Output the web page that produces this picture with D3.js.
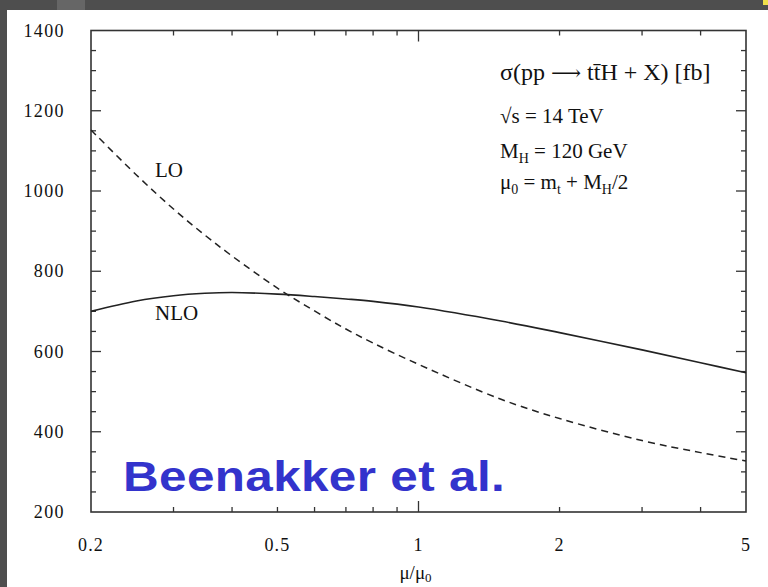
<!DOCTYPE html>
<html>
<head>
<meta charset="utf-8">
<script src="https://cdn.jsdelivr.net/npm/d3@7"></script>
<style>
  html, body { margin: 0; padding: 0; background: #fff; }
  svg { display: block; }
  .serif { font-family: "Liberation Serif", "Times New Roman", serif; fill: #111; }
</style>
</head>
<body>
<script>
// Scale variation of the ttH cross section at the LHC (LO vs NLO)
const mu = [0.2, 0.25, 0.3, 0.35, 0.4, 0.5, 0.6, 0.7, 0.8, 1.0, 1.5, 2, 3, 4, 5];
const sigmaLO = [1152, 1040, 955, 890, 838, 758, 701, 656, 621, 568, 481, 433, 378, 348, 327];
const sigmaNLO = [700, 726, 739, 745, 747, 743, 737, 731, 725, 711, 676, 647, 604, 572, 547];

const xTickLabels = [0.2, 0.5, 1, 2, 5];
const xMinorTicks = [0.3, 0.4, 0.5, 0.6, 0.7, 0.8, 0.9, 2, 3, 4];
const xMajorTicks = [1];
const yTickLabels = [200, 400, 600, 800, 1000, 1200, 1400];
const yMinorTicks = d3.range(250, 1400, 50).filter(v => v % 200 !== 0);

const W = 768, H = 587;
const frame = { left: 91, top: 30.5, right: 746, bottom: 512 };

const svg = d3.select("body").append("svg").attr("width", W).attr("height", H);

// window chrome: dark bars along the top and left
svg.append("rect").attr("x", 0).attr("y", 0).attr("width", W).attr("height", H).attr("fill", "#fff");
svg.append("rect").attr("x", 0).attr("y", 0).attr("width", W).attr("height", 10).attr("fill", "#4e4e4e");
svg.append("rect").attr("x", 0).attr("y", 0).attr("width", 7).attr("height", H).attr("fill", "#4e4e4e");
svg.append("rect").attr("x", 57).attr("y", 0).attr("width", 28).attr("height", 10).attr("fill", "#666");
svg.append("rect").attr("x", 763).attr("y", 0).attr("width", 5).attr("height", 5).attr("fill", "#f0e04a");

const x = d3.scaleLog().domain([0.2, 5]).range([frame.left, frame.right]);
const y = d3.scaleLinear().domain([200, 1400]).range([frame.bottom, frame.top]);

const ink = "#222";

// frame
svg.append("rect")
  .attr("x", frame.left).attr("y", frame.top)
  .attr("width", frame.right - frame.left).attr("height", frame.bottom - frame.top)
  .attr("fill", "none").attr("stroke", "#333").attr("stroke-width", 1.6);

// inward ticks on all four sides
function xTicks(values, len) {
  values.forEach(v => {
    svg.append("line").attr("x1", x(v)).attr("x2", x(v))
      .attr("y1", frame.bottom).attr("y2", frame.bottom - len)
      .attr("stroke", "#333").attr("stroke-width", 1.3);
    svg.append("line").attr("x1", x(v)).attr("x2", x(v))
      .attr("y1", frame.top).attr("y2", frame.top + len)
      .attr("stroke", "#333").attr("stroke-width", 1.3);
  });
}
function yTicks(values, len) {
  values.forEach(v => {
    svg.append("line").attr("x1", frame.left).attr("x2", frame.left + len)
      .attr("y1", y(v)).attr("y2", y(v))
      .attr("stroke", "#333").attr("stroke-width", 1.3);
    svg.append("line").attr("x1", frame.right).attr("x2", frame.right - len)
      .attr("y1", y(v)).attr("y2", y(v))
      .attr("stroke", "#333").attr("stroke-width", 1.3);
  });
}
xTicks(xMinorTicks, 5);
xTicks(xMajorTicks, 11);
yTicks(yMinorTicks, 5);
yTicks(yTickLabels.slice(1, -1), 10);

// tick labels
svg.append("g").selectAll("text").data(yTickLabels).join("text")
  .attr("class", "serif")
  .attr("x", 65).attr("y", d => y(d) + 6)
  .attr("text-anchor", "end")
  .style("font-size", "18px").style("letter-spacing", "1.4px")
  .text(d => d);

svg.append("g").selectAll("text").data(xTickLabels).join("text")
  .attr("class", "serif")
  .attr("x", d => x(d)).attr("y", 551)
  .attr("text-anchor", "middle")
  .style("font-size", "18px").style("letter-spacing", "1.2px")
  .text(d => d);

// x axis title: mu / mu_0
const xt = svg.append("text").attr("class", "serif")
  .attr("x", x(1) - 3).attr("y", 579).attr("text-anchor", "middle")
  .style("font-size", "19px");
xt.append("tspan").text("μ/μ");
xt.append("tspan").attr("dy", 3).style("font-size", "13px").text("0");

// curves
const pts = (vals) => mu.map((m, i) => [x(m), y(vals[i])]);
const line = d3.line().curve(d3.curveCatmullRom.alpha(0.5));

svg.append("path").attr("d", line(pts(sigmaLO)))
  .attr("fill", "none").attr("stroke", ink).attr("stroke-width", 1.5)
  .attr("stroke-dasharray", "7,5");
svg.append("path").attr("d", line(pts(sigmaNLO)))
  .attr("fill", "none").attr("stroke", ink).attr("stroke-width", 1.6);

// curve labels
svg.append("text").attr("class", "serif").attr("x", 155).attr("y", 177)
  .style("font-size", "21px").text("LO");
svg.append("text").attr("class", "serif").attr("x", 155).attr("y", 320)
  .style("font-size", "21px").text("NLO");

// process annotation
const ax = 500;
const t1 = svg.append("text").attr("class", "serif").attr("x", ax).attr("y", 80)
  .style("font-size", "24px");
t1.append("tspan").text("σ(pp ");
t1.append("tspan").style("font-family", "'DejaVu Serif', serif").style("font-size", "21px").text("⟶");
t1.append("tspan").text(" t");
t1.append("tspan").text("t\u0304");
t1.append("tspan").text("H + X) [fb]");

svg.append("text").attr("class", "serif").attr("x", ax).attr("y", 123)
  .style("font-size", "21px").text("√s = 14 TeV");

const t3 = svg.append("text").attr("class", "serif").attr("x", ax).attr("y", 158)
  .style("font-size", "21px");
t3.append("tspan").text("M");
t3.append("tspan").attr("dy", 5).style("font-size", "14px").text("H");
t3.append("tspan").attr("dy", -5).text(" = 120 GeV");

const t4 = svg.append("text").attr("class", "serif").attr("x", ax).attr("y", 189)
  .style("font-size", "21px");
t4.append("tspan").text("μ");
t4.append("tspan").attr("dy", 5).style("font-size", "14px").text("0");
t4.append("tspan").attr("dy", -5).text(" = m");
t4.append("tspan").attr("dy", 5).style("font-size", "14px").text("t");
t4.append("tspan").attr("dy", -5).text(" + M");
t4.append("tspan").attr("dy", 5).style("font-size", "14px").text("H");
t4.append("tspan").attr("dy", -5).text("/2");

// reference credit, set slightly wide
svg.append("text")
  .attr("transform", "translate(123,491) scale(1.15,1)")
  .style("font-family", "'Liberation Sans', Arial, sans-serif")
  .style("font-weight", "bold").style("font-size", "43px")
  .attr("fill", "#3333cc")
  .attr("textLength", 332).attr("lengthAdjust", "spacing")
  .text("Beenakker et al.");
</script>
</body>
</html>
